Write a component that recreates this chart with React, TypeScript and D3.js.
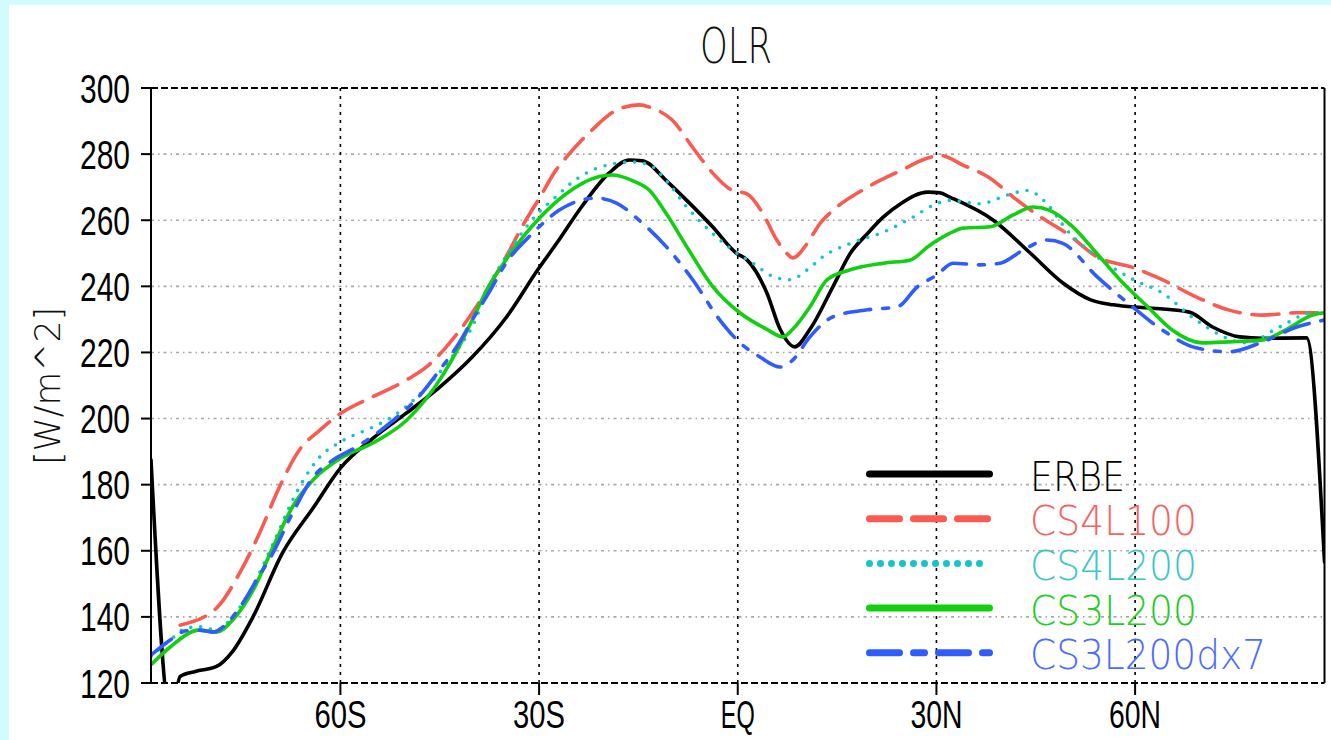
import React from 'react';
import * as d3 from 'd3';

const W = 1331;
const H = 740;
const PL = 151, PR = 1324.5, PT = 88, PB = 683;

const xTickVals = [-60, -30, 0, 30, 60];
const xTickLabels = ['60S', '30S', 'EQ', '30N', '60N'];
const yTickVals = [120, 140, 160, 180, 200, 220, 240, 260, 280, 300];
const yGridVals = [140, 160, 180, 200, 220, 240, 260, 280];

const erbeLat = [-88.6, -85.6, -84.2, -81.9, -78.7, -76.3, -73.2, -68.7, -64.1, -60.0, -55.1, -50.0, -45.0, -40.1, -35.0, -30.2, -27.0, -23.6, -19.4, -16.4, -14.4, -10.8, -7.7, -3.8, -0.2, 1.4, 4.4, 6.4, 8.6, 10.9, 14.4, 17.0, 19.6, 22.0, 24.6, 28.7, 30.5, 32.0, 38.6, 44.2, 49.1, 53.2, 56.7, 61.8, 68.2, 71.7, 75.8, 79.3, 85.9, 88.6];
const erbeVal = [187.5, 110, 122, 123.5, 125, 129.5, 140, 159.5, 173, 185, 194, 201.7, 209.5, 218.6, 230.5, 245, 254, 264, 274.3, 278.2, 278, 272, 266, 258, 250, 248, 238, 227, 221.7, 227, 240, 250, 256, 261, 265, 268.5, 268.3, 267, 260, 250, 241, 236, 234.4, 233.5, 232.2, 227.7, 224.7, 224.3, 224.4, 156.6];

const cs4l100Lat = [-84.2, -78.7, -75.2, -72.2, -69.2, -66.2, -63.1, -60.0, -55.1, -50.0, -47.0, -44.0, -40.1, -37.6, -35.0, -32.0, -30.0, -27.5, -25.9, -22.0, -18.3, -14.9, -12.9, -9.9, -6.8, -3.8, -0.8, 1.4, 3.8, 5.9, 7.4, 8.3, 10.5, 12.4, 14.4, 19.6, 24.6, 28.7, 30.5, 34.0, 38.1, 41.6, 45.7, 49.7, 54.2, 59.8, 64.1, 69.2, 74.2, 79.3, 84.4, 88.6];
const cs4l100Val = [137.5, 142.7, 153.3, 165.4, 179.3, 190.5, 196.5, 201.5, 206.6, 211.7, 215.6, 221.7, 231.9, 239.8, 248.9, 260, 266.5, 275, 279, 287.3, 293.3, 294.9, 293.9, 290.3, 282, 274.3, 269, 268, 262, 254, 250, 248.6, 253, 259, 263, 270, 275, 278.8, 279.6, 276.7, 272.7, 267, 261, 256, 249, 245.6, 242, 236.8, 232.8, 231.3, 232, 232];

const cs4l200Lat = [-88.6, -85.7, -83.3, -81.3, -78.7, -76.3, -73.2, -70.2, -67.2, -65.7, -63.1, -60.0, -55.1, -52.6, -47.7, -45.0, -42.1, -40.1, -37.6, -35.0, -30.0, -27.5, -25.9, -20.9, -15.9, -13.3, -10.8, -7.7, -3.8, -0.8, 2.3, 5.3, 7.9, 10.5, 12.9, 17.0, 22.0, 26.5, 29.6, 32.0, 36.6, 40.7, 43.7, 46.7, 49.7, 54.2, 59.8, 64.1, 69.2, 76.8, 81.8, 86.8, 88.6];
const cs4l200Val = [128, 133, 136.6, 137, 136, 140, 149.5, 162, 175.4, 181, 188.4, 192.9, 197.4, 200, 208, 214, 221.5, 227.7, 240, 249, 262.5, 267, 270, 276, 277.6, 276.7, 272, 264, 256, 251, 247, 243, 242, 245, 249, 253, 256.4, 261, 264.6, 266, 265, 267.6, 269, 265, 257, 249, 242, 238, 229.8, 222.9, 227.7, 232, 231.5];

const cs3l200Lat = [-88.6, -85.7, -81.3, -78.7, -76.3, -73.2, -70.2, -67.2, -64.1, -60.0, -55.1, -50.0, -45.0, -42.1, -40.1, -37.6, -35.0, -30.0, -25.9, -20.9, -19.0, -15.9, -13.3, -10.8, -7.7, -3.8, 0.3, 4.4, 6.8, 8.3, 10.9, 13.5, 17.0, 22.0, 26.1, 28.7, 32.0, 34.0, 38.1, 41.6, 44.6, 47.1, 50.6, 54.2, 57.7, 61.8, 65.6, 70.2, 74.2, 79.3, 82.9, 86.8, 88.6];
const cs3l200Val = [125.5, 130.9, 136, 135.4, 139, 148, 161, 173.4, 181.5, 188, 192.6, 199.5, 211.7, 221.7, 229.8, 240, 248, 260.5, 268, 273.2, 273.7, 272, 269, 262, 252, 240, 232, 227, 224.7, 227, 233.8, 242, 245, 247, 248, 252, 256, 257.6, 258, 261.6, 264, 263, 258, 250, 242, 234, 226.8, 222.9, 223.2, 223.8, 227, 231.3, 232];

const cs3l200dx7Lat = [-88.6, -85.7, -83.3, -81.3, -79.3, -76.7, -74.8, -72.7, -70.2, -67.2, -64.1, -61.1, -57.6, -52.6, -47.7, -45.0, -42.1, -40.1, -37.6, -35.0, -31.0, -27.0, -21.4, -18.3, -14.9, -10.8, -6.8, -2.7, 0.3, 3.3, 6.4, 8.3, 10.9, 14.4, 19.6, 24.1, 27.1, 30.1, 32.5, 36.6, 39.6, 43.1, 46.7, 49.1, 54.2, 59.8, 64.1, 69.2, 74.2, 79.3, 84.4, 88.6];
const cs3l200dx7Val = [128.4, 133, 135.8, 136, 135.4, 139, 144, 151, 159.3, 171.5, 182.3, 187.5, 191.4, 198.5, 207.7, 214.7, 222.8, 229.8, 238, 247, 256, 263, 266.7, 265.2, 260, 252, 242, 229.8, 223, 218.7, 215.6, 217.7, 224.7, 230.8, 232.9, 233.8, 239.8, 243.5, 247, 246.5, 247, 251, 254, 253, 243, 233.5, 226.8, 221.4, 220.2, 223.2, 227.7, 229.8];

const seriesNames = ['ERBE', 'CS4L100', 'CS4L200', 'CS3L200', 'CS3L200dx7'];

const series = [
  { name: seriesNames[0], lat: erbeLat, val: erbeVal, color: '#000000', text: '#000000', dash: null, legDash: null },
  { name: seriesNames[1], lat: cs4l100Lat, val: cs4l100Val, color: '#fa5a50', text: '#f86060', dash: '27 12', legDash: '30 14' },
  { name: seriesNames[2], lat: cs4l200Lat, val: cs4l200Val, color: '#12c4cc', text: '#3cc6c8', dash: '0 10', legDash: '0 11' },
  { name: seriesNames[3], lat: cs3l200Lat, val: cs3l200Val, color: '#10d010', text: '#22cc22', dash: null, legDash: null },
  { name: seriesNames[4], lat: cs3l200dx7Lat, val: cs3l200dx7Val, color: '#2f5cff', text: '#4a6cff', dash: '26 12 6 12', legDash: '30 14 11 14' },
];

const legendTextLen = [95, 167, 167, 167, 236];

export default function App() {
  const x = d3.scaleLinear().domain([-88.6, 88.6]).range([PL, PR]);
  const y = d3.scaleLinear().domain([120, 300]).range([PB, PT]);
  const line = d3
    .line<[number, number]>()
    .x((d) => x(d[0]))
    .y((d) => y(d[1]))
    .curve(d3.curveMonotoneX);

  const legX0 = 866, legX1 = 993, legTextX = 1030, legY0 = 474, legStep = 44.7;

  return (
    <div style={{ position: 'fixed', left: 0, top: 0, width: W, height: H }}>
      <svg width={W} height={H} style={{ display: 'block' }}>
        <defs>
          <clipPath id="plotclip">
            <rect x={PL} y={PT} width={PR - PL} height={PB - PT} />
          </clipPath>
        </defs>
        <rect x={0} y={0} width={W} height={H} fill="#d2fbfd" />
        <rect x={9} y={5} width={W - 9} height={H - 5} fill="#ffffff" />

        <text x={736} y={63} fontFamily="DejaVu Sans" fontWeight={200} fontSize={50} textAnchor="middle" textLength={72} lengthAdjust="spacingAndGlyphs" fill="#111">OLR</text>

        {yGridVals.map((v) => (
          <line key={'hg' + v} x1={PL} x2={PR} y1={y(v)} y2={y(v)} stroke="#a8a8a8" strokeWidth={1.6} strokeDasharray="3 4 1.5 4" />
        ))}
        {xTickVals.map((v) => (
          <line key={'vg' + v} x1={x(v)} x2={x(v)} y1={PT} y2={PB} stroke="#000" strokeWidth={1.6} strokeDasharray="3 5" />
        ))}

        <g clipPath="url(#plotclip)">
          {series.map((s) => {
            const pts = s.lat.map((l, i) => [l, s.val[i]] as [number, number]);
            return (
              <path key={s.name} d={line(pts) || ''} fill="none" stroke={s.color} strokeWidth={3.6}
                strokeDasharray={s.dash || undefined} strokeLinecap="round" strokeLinejoin="round" />
            );
          })}
        </g>

        <line x1={PL} x2={PR} y1={PT} y2={PT} stroke="#000" strokeWidth={2} strokeDasharray="7 3" />
        <line x1={PL} x2={PR} y1={PB} y2={PB} stroke="#000" strokeWidth={2} strokeDasharray="7 3" />
        <line x1={PL} x2={PL} y1={PT} y2={PB} stroke="#000" strokeWidth={2} />
        <line x1={PR} x2={PR} y1={PT} y2={PB} stroke="#000" strokeWidth={2} />

        {yTickVals.map((v) => (
          <g key={'yt' + v}>
            <line x1={141} x2={PL} y1={y(v)} y2={y(v)} stroke="#000" strokeWidth={2} />
            <text x={130} y={y(v) + 14.5} fontFamily="Liberation Sans" fontSize={40} textAnchor="end" textLength={50} lengthAdjust="spacingAndGlyphs" fill="#000">{v}</text>
          </g>
        ))}
        {xTickVals.map((v, i) => (
          <g key={'xt' + v}>
            <line x1={x(v)} x2={x(v)} y1={PB} y2={PB + 12} stroke="#000" strokeWidth={2} />
            <text x={x(v)} y={728} fontFamily="Liberation Sans" fontSize={39} textAnchor="middle" textLength={xTickLabels[i].length === 2 ? 34 : 52} lengthAdjust="spacingAndGlyphs" fill="#000">{xTickLabels[i]}</text>
          </g>
        ))}

        <text transform="translate(60,386) rotate(-90)" fontFamily="DejaVu Sans" fontWeight={200} fontSize={36} textAnchor="middle" textLength={158} lengthAdjust="spacingAndGlyphs" fill="#111">[W/m^2]</text>

        {series.map((s, i) => {
          const ly = legY0 + i * legStep;
          return (
            <g key={'lg' + s.name}>
              <line x1={legX0 + 3.5} x2={legX1 - 3.5} y1={ly} y2={ly} stroke={s.color} strokeWidth={7}
                strokeDasharray={s.legDash || undefined} strokeLinecap="round" />
              <text x={legTextX} y={ly + 16.5} fontFamily="DejaVu Sans" fontWeight={200} fontSize={40} textLength={legendTextLen[i]} lengthAdjust="spacingAndGlyphs" fill={s.text}>{s.name}</text>
            </g>
          );
        })}
      </svg>
    </div>
  );
}
